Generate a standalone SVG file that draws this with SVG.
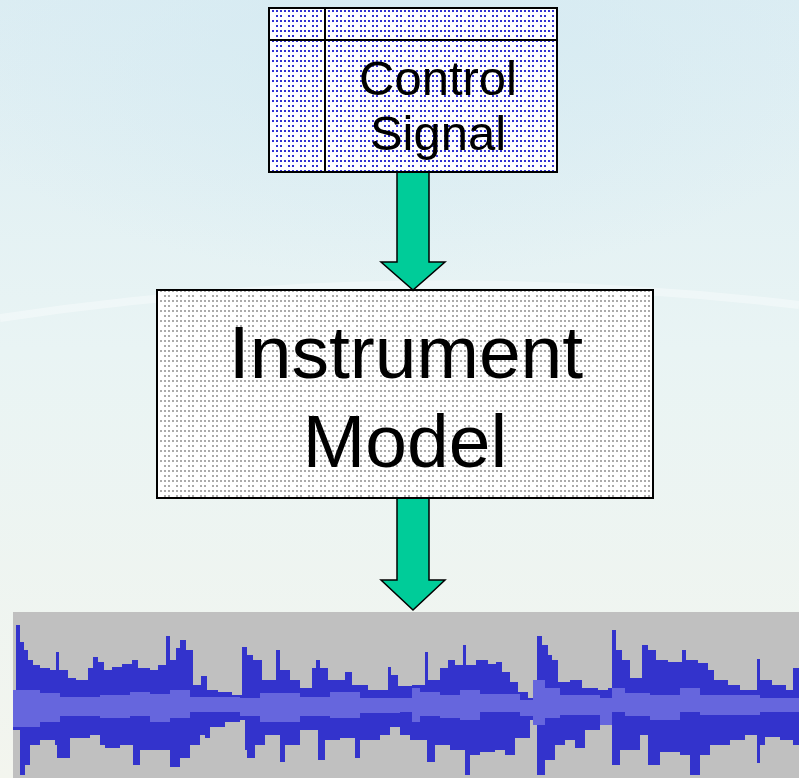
<svg xmlns="http://www.w3.org/2000/svg" width="799" height="778" viewBox="0 0 799 778">
  <style>
    .box { stroke: #000; stroke-width: 2; }
    .lbl { font-family: "Liberation Sans", Arial, sans-serif; fill: #000; text-anchor: middle; }
    .arrow { fill: #00cc99; stroke: #000; stroke-width: 1.5; stroke-linejoin: miter; }
  </style>
  <defs>
    <linearGradient id="bg" x1="0" y1="0" x2="0" y2="1">
      <stop offset="0" stop-color="#dcedf3"/>
      <stop offset="0.45" stop-color="#e9f4f4"/>
      <stop offset="1" stop-color="#f3f5ee"/>
    </linearGradient>
    <radialGradient id="glow" cx="0.5" cy="0.1" r="0.6">
      <stop offset="0" stop-color="#d4eaf2" stop-opacity="0.8"/>
      <stop offset="1" stop-color="#d4eaf2" stop-opacity="0"/>
    </radialGradient>
    <pattern id="blueDots" width="12" height="10" patternUnits="userSpaceOnUse">
      <rect width="12" height="10" fill="#fff"/>
      <rect x="0" y="0" width="2" height="2" fill="#3030d0"/>
      <rect x="4" y="0" width="2" height="2" fill="#3030d0"/>
      <rect x="8" y="0" width="2" height="2" fill="#3030d0"/>
      <rect x="0" y="5" width="2" height="2" fill="#3030d0"/>
      <rect x="4" y="5" width="2" height="2" fill="#3030d0"/>
    </pattern>
    <pattern id="grayDots" width="12" height="10" patternUnits="userSpaceOnUse">
      <rect width="12" height="10" fill="#fff"/>
      <rect x="0" y="0" width="2" height="2" fill="#aaaaaa"/>
      <rect x="4" y="0" width="2" height="2" fill="#aaaaaa"/>
      <rect x="8" y="0" width="2" height="2" fill="#aaaaaa"/>
      <rect x="0" y="5" width="2" height="2" fill="#aaaaaa"/>
      <rect x="8" y="5" width="2" height="2" fill="#aaaaaa"/>
    </pattern>
  </defs>

  <rect width="799" height="778" fill="url(#bg)"/>
  <rect width="799" height="400" fill="url(#glow)"/>
  <path d="M0,318 Q400,258 799,305" fill="none" stroke="#ffffff" stroke-opacity="0.35" stroke-width="8"/>

  <g id="waveform">
    <rect x="13" y="612" width="786" height="166" fill="#c0c0c0"/>
    <path fill="#3333cc" d="M13,705 V690 H16 V625 H20 V642 H24 V650 H28 V660 H33 V665 H40 V668 H50 V670 H56 V652 H59 V670 H68 V678 H76 V680 H88 V668 H93 V657 H98 V662 H104 V670 H112 V667 H122 V664 H132 V660 H138 V668 H150 V670 H158 V665 H166 V636 H170 V660 H176 V648 H180 V640 H186 V650 H193 V685 H201 V676 H207 V690 H218 V692 H232 V695 H242 V647 H247 V655 H253 V660 H262 V680 H276 V650 H280 V670 H290 V680 H300 V688 H312 V668 H316 V660 H320 V668 H328 V680 H345 V672 H352 V685 H368 V690 H388 V667 H391 V675 H398 V686 H412 V685 H425 V652 H428 V680 H440 V668 H448 V660 H455 V665 H463 V645 H466 V665 H476 V660 H488 V664 H496 V662 H502 V672 H510 V682 H518 V692 H528 V698 H533 V690 H537 V636 H542 V645 H548 V655 H552 V660 H558 V682 H570 V680 H582 V688 H598 V690 H608 V688 H612 V630 H616 V650 H622 V660 H630 V678 H642 V645 H648 V650 H656 V660 H668 V662 H682 V650 H686 V660 H698 V663 H708 V670 H714 V680 H728 V685 H740 V690 H757 V659 H760 V680 H772 V685 H786 V690 H793 V668 H799 V745 H793 V740 H780 V737 H765 V745 H760 V763 H757 V735 H745 V740 H730 V745 H710 V755 H700 V775 H690 V755 H680 V752 H660 V765 H648 V735 H640 V750 H620 V765 H612 V722 H600 V730 H585 V748 H575 V740 H565 V745 H555 V760 H545 V775 H537 V720 H530 V738 H515 V755 H505 V750 H495 V752 H480 V755 H470 V775 H465 V750 H450 V745 H435 V762 H427 V740 H410 V735 H400 V727 H390 V735 H380 V740 H360 V758 H355 V738 H340 V740 H325 V760 H318 V730 H300 V745 H285 V762 H280 V735 H265 V745 H255 V758 H247 V750 H245 V720 H240 V722 H225 V727 H210 V738 H205 V735 H200 V745 H190 V758 H180 V767 H170 V750 H160 V750 H140 V765 H133 V745 H120 V748 H105 V745 H100 V735 H90 V738 H70 V758 H57 V745 H55 V740 H40 V745 H30 V765 H25 V775 H20 V730 H13 Z"/>
    <path fill="#6666dd" d="M13,705 V690 H40 V693 H60 V697 H100 V695 H130 V692 H150 V694 H170 V690 H190 V697 H240 V698 H260 V693 H300 V697 H330 V692 H360 V698 H400 V698 H412 V688 H420 V692 H440 V695 H460 V690 H480 V694 H520 V700 H533 V680 H545 V688 H560 V695 H600 V698 H612 V688 H625 V693 H650 V695 H680 V688 H700 V695 H760 V698 H799 V712 H760 V715 H700 V712 H680 V720 H650 V716 H625 V712 H612 V725 H600 V715 H560 V718 H545 V725 H533 V716 H520 V712 H480 V720 H460 V718 H440 V716 H420 V722 H412 V712 H400 V713 H360 V718 H330 V716 H300 V722 H260 V716 H240 V712 H190 V718 H170 V722 H150 V716 H130 V718 H100 V716 H60 V722 H40 V727 H13 Z"/>
  </g>

  <g id="connectors">
    <path class="arrow" d="M397,172 H429 V262 H445 L413,290 L381,262 H397 Z"/>
    <path class="arrow" d="M397,498 H429 V580 H445 L413,610 L381,580 H397 Z"/>
  </g>

  <g id="control-signal">
    <rect class="box" x="269" y="8" width="288" height="164" fill="url(#blueDots)"/>
    <line x1="325" y1="8" x2="325" y2="172" stroke="#000" stroke-width="2"/>
    <line x1="269" y1="40" x2="557" y2="40" stroke="#000" stroke-width="2"/>
    <text class="lbl" x="438" y="95" font-size="49">Control</text>
    <text class="lbl" x="438" y="150" font-size="49">Signal</text>
  </g>

  <g id="instrument-model">
    <rect class="box" x="157" y="290" width="496" height="208" fill="url(#grayDots)"/>
    <text class="lbl" x="406" y="378" font-size="75">Instrument</text>
    <text class="lbl" x="405" y="467" font-size="75">Model</text>
  </g>
</svg>
